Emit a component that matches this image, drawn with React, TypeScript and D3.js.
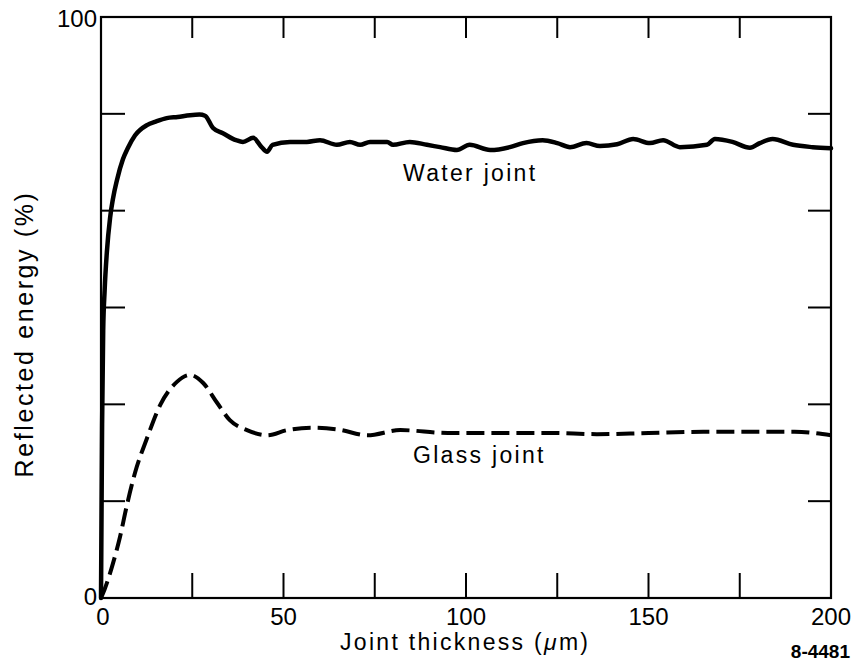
import React from "react";
import * as d3 from "d3";

const W = 858;
const H = 671;

// Water joint (solid)
const waterT = [0, 0.3, 0.6, 1, 1.6, 2.5, 3.3, 4.4, 6, 7.4, 9.3, 12.6, 15, 18, 21, 24.4, 27, 28.5, 30.7, 33.4, 37, 38.9, 41.7, 44, 45.5, 47, 51.8, 56.4, 60, 64.6, 68.2, 71, 73.7, 78.4, 80, 84.6, 89.3, 92.9, 97.5, 101, 106.6, 112, 115.6, 121, 125, 128.5, 133, 136.7, 141.4, 145.8, 150.4, 154, 158.6, 166, 168.2, 173, 177.8, 180.5, 184, 189.6, 195, 200];
const waterV = [0, 30, 46, 53, 59.5, 65.5, 68.8, 72, 75.5, 77.5, 79.6, 81.4, 82, 82.6, 82.8, 83.1, 83.2, 83, 80.9, 80, 78.8, 78.5, 79.2, 77.6, 76.8, 78, 78.5, 78.5, 78.8, 78, 78.5, 78, 78.5, 78.5, 78, 78.5, 78, 77.6, 77.1, 78, 77.1, 77.6, 78.3, 78.8, 78.3, 77.6, 78.3, 77.8, 78.1, 79, 78.3, 78.8, 77.6, 78, 79, 78.5, 77.5, 78.3, 79, 78, 77.6, 77.4];

// Glass joint (dashed)
const glassT = [0, 1, 3.3, 5.2, 7, 9.3, 12.6, 16.2, 20.8, 24.4, 28, 31.8, 35.3, 40, 45.5, 51, 58, 65, 73, 82, 95, 109, 123, 136, 150, 165, 180, 190, 200];
const glassV = [0, 1.5, 6, 10.5, 15.7, 21.5, 27.5, 33.2, 37.2, 38.4, 37, 33.6, 30.6, 28.9, 28, 28.9, 29.3, 29, 28, 28.9, 28.4, 28.4, 28.4, 28.2, 28.4, 28.6, 28.6, 28.6, 28];

const xTickLabels = [0, 50, 100, 150, 200];
const xTicks = [25, 50, 75, 100, 125, 150, 175];
const yTickLabels = [0, 100];
const yTicks = [1, 2, 3, 4, 5].map((k) => (k * 100) / 6);

const FONT = "'Liberation Sans', Arial, Helvetica, sans-serif";

export default function App() {
  const x = d3.scaleLinear().domain([0, 200]).range([101, 831]);
  const y = d3.scaleLinear().domain([0, 100]).range([598, 17]);

  const water = waterT.map((t, i) => [t, waterV[i]] as [number, number]);
  const glass = glassT.map((t, i) => [t, glassV[i]] as [number, number]);

  const line = d3
    .line<[number, number]>()
    .x((d) => x(d[0]))
    .y((d) => y(d[1]))
    .curve(d3.curveMonotoneX);

  const x0 = x(0), x1 = x(200), y0 = y(0), y1 = y(100);

  return (
    <svg
      width={W}
      height={H}
      style={{ position: "absolute", left: 0, top: 0, background: "#fff" }}
      fontFamily={FONT}
    >
      <rect x={0} y={0} width={W} height={H} fill="#fff" />
      {/* frame */}
      <rect x={x0} y={y1} width={x1 - x0} height={y0 - y1} fill="none" stroke="#000" strokeWidth={2.2} />
      {/* x ticks bottom and top */}
      {xTicks.map((t) => (
        <g key={"xt" + t}>
          <line x1={x(t)} x2={x(t)} y1={y0} y2={y0 - 25} stroke="#000" strokeWidth={2} />
          <line x1={x(t)} x2={x(t)} y1={y1} y2={y1 + 21} stroke="#000" strokeWidth={2} />
        </g>
      ))}
      {/* y ticks left and right */}
      {yTicks.map((t) => (
        <g key={"yt" + t}>
          <line x1={x0} x2={x0 + 24} y1={y(t)} y2={y(t)} stroke="#000" strokeWidth={2} />
          <line x1={x1} x2={x1 - 23} y1={y(t)} y2={y(t)} stroke="#000" strokeWidth={2} />
        </g>
      ))}
      {/* x tick labels */}
      {xTickLabels.map((t) => (
        <text key={"xl" + t} x={x(t) + (t === 0 ? 2 : 0)} y={625} textAnchor="middle" fontSize={24} fill="#000">
          {t}
        </text>
      ))}
      {/* y tick labels */}
      {yTickLabels.map((t) => (
        <text key={"yl" + t} x={97} y={t === 100 ? 27 : 605} textAnchor="end" fontSize={24} fill="#000">
          {t}
        </text>
      ))}
      {/* curves */}
      <path d={line(water) || ""} fill="none" stroke="#000" strokeWidth={4.5} strokeLinejoin="round" strokeLinecap="round" />
      <path d={line(glass) || ""} fill="none" stroke="#000" strokeWidth={4} strokeDasharray="18,7" />
      {/* curve labels */}
      <text x={403} y={181} fontSize={23} letterSpacing={2.3} fill="#000">Water joint</text>
      <text x={413} y={463} fontSize={23} letterSpacing={2.3} fill="#000">Glass joint</text>
      {/* axis titles */}
      <text x={340} y={650} fontSize={23} letterSpacing={2.3} fill="#000">
        Joint thickness (<tspan fontStyle="italic">μ</tspan>m)
      </text>
      <text
        transform={`translate(33,${334}) rotate(-90)`}
        textAnchor="middle"
        fontSize={25}
        letterSpacing={2.6}
        fill="#000"
      >
        Reflected energy (%)
      </text>
      <text x={850} y={658} textAnchor="end" fontSize={19} fontWeight="bold" fill="#000">
        8-4481
      </text>
    </svg>
  );
}
